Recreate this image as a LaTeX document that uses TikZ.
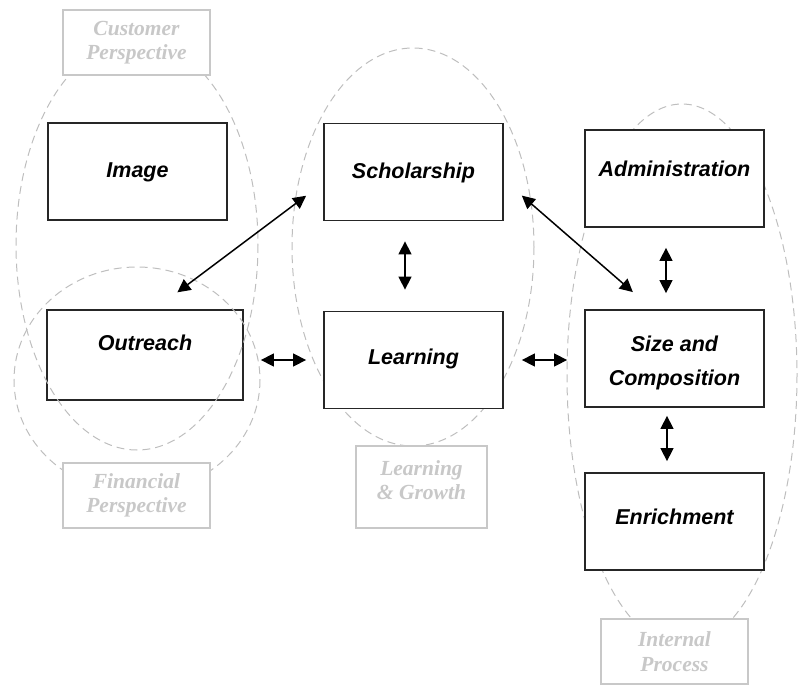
\documentclass[tikz,border=0pt]{standalone}
\usepackage{xcolor}
\usepackage{fontspec}
\usepackage{tikz}
\usetikzlibrary{arrows.meta}
\newfontfamily\boxfont{Liberation Sans}
\newfontfamily\tagfont{Liberation Serif}
\definecolor{ringgray}{RGB}{190,190,190}
\definecolor{taggray}{RGB}{200,200,200}

\begin{document}
\begin{tikzpicture}[x=0.5pt, y=-0.5pt,
		block/.style={draw=black!85, line width=0.9pt, fill=white, minimum width=89.5pt,
			minimum height=48.5pt, inner sep=0pt, align=center,
			font=\boxfont\bfseries\itshape\fontsize{10.75}{12.3}\selectfont},
		oneline/.style={text height=8pt, text depth=#1},
		oneline/.default=2pt,
		tag/.style={draw=taggray, line width=0.8pt, fill=white, text=taggray, minimum width=73.5pt,
			minimum height=32.5pt, inner sep=0pt, align=center,
			font=\tagfont\bfseries\itshape\fontsize{10.75}{12.25}\selectfont},
		ring/.style={draw=ringgray, line width=0.5pt, dash pattern=on 4pt off 2.5pt},
		link/.style={{Triangle[length=6.5pt, width=6.5pt]}-{Triangle[length=6.5pt, width=6.5pt]},
			line width=0.75pt, black}
	]
			\useasboundingbox (0,0) rectangle (799,686);

			% perspectives behind the boxes
			\draw[ring] (682,375) ellipse [x radius=115, y radius=271];
			\draw[ring] (413,247) ellipse [x radius=121, y radius=199];

			\node[block, oneline] (image) at (137.5,171.5) {Image};
			\node[block, oneline=12.4pt, minimum width=98pt, minimum height=45pt] (outreach) at (145,355) {Outreach};
			\node[block, oneline] (schol) at (413.5,172) {Scholarship};
			\node[block, oneline=3.2pt] (learn) at (413.5,360) {Learning};
			\node[block, oneline=10.2pt] (admin) at (674.5,178.5) {Administration};
			\node[block] (size) at (674.5,358.5) {\mbox{}\\Size and\\[5pt]Composition};
			\node[block, oneline=4.7pt] (enrich) at (674.5,521.5) {Enrichment};

			\draw[ring] (137,245) ellipse [x radius=121, y radius=205];
			\draw[ring] (137,380) ellipse [x radius=123, y radius=113];

			\node[tag] (customer) at (136.5,42.5) {Customer\\Perspective};
			\node[tag] (financial) at (136.5,495.5) {Financial\\Perspective};
			\node[tag, minimum width=65.5pt, minimum height=41pt] (growth) at (421.5,487) {Learning\\\& Growth\\[-5.25pt]\mbox{}};
			\node[tag] (internal) at (674.5,651.5) {Internal\\Process};

			\draw[link, shorten <=14pt, shorten >=10.6pt] ([xshift=5pt]outreach.north) -- ([yshift=-5.5pt]schol.west);
			\draw[link, shorten <=11.9pt, shorten >=13pt] ([yshift=-4pt]schol.east) -- ([xshift=-11pt]size.north);
			\draw[link, shorten <=10pt, shorten >=10.5pt] ([xshift=-4.25pt]schol.south) -- ([xshift=-4.25pt]learn.north);
			\draw[link, shorten <=8.5pt, shorten >=8.5pt] (learn.west -| outreach.east) -- (learn.west);
			\draw[link, shorten <=9pt, shorten >=8.5pt] (learn.east) -- (learn.east -| size.west);
			\draw[link, shorten <=10pt, shorten >=8pt] ([xshift=-4.25pt]admin.south) -- ([xshift=-4.25pt]size.north);
			\draw[link, shorten <=4pt, shorten >=5.5pt] ([xshift=-3.75pt]size.south) -- ([xshift=-3.75pt]enrich.north);
\end{tikzpicture}
\end{document}
